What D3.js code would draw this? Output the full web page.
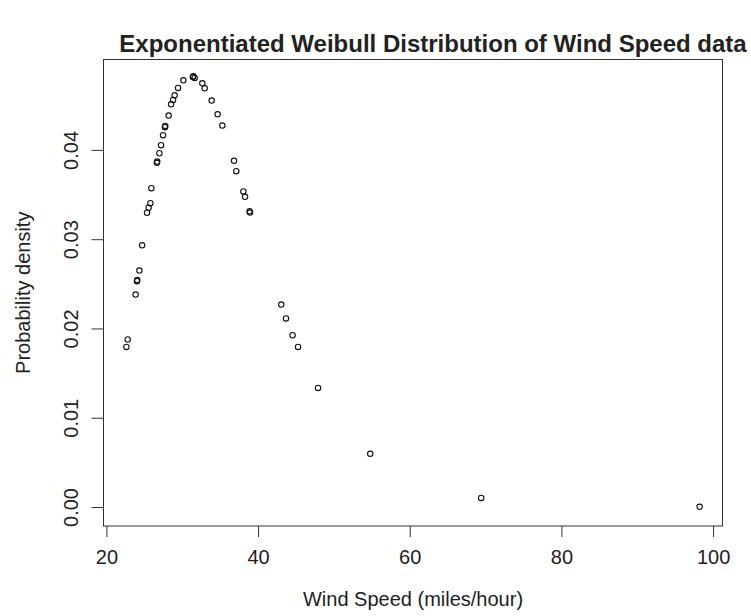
<!DOCTYPE html>
<html>
<head>
<meta charset="utf-8">
<script src="https://cdn.jsdelivr.net/npm/d3@7"></script>
<style>
  body { margin: 0; background: #fff; }
  text { font-family: "Liberation Sans", Arial, sans-serif; fill: #222; }
</style>
</head>
<body>
<div id="chart"></div>
<script>
// wind speed (x) and fitted density (y)
var windSpeed = [22.64, 22.81, 23.86, 24.03, 24.07, 24.35, 24.71, 25.36, 25.57, 25.80,
                 25.93, 26.66, 26.70, 26.99, 27.21, 27.47, 27.72, 27.76, 28.21, 28.53,
                 28.79, 29.00, 29.45, 30.15, 31.40, 31.46, 31.64, 32.65, 32.96, 33.88,
                 34.67, 35.29, 36.83, 37.13, 38.06, 38.28, 38.88, 38.94, 43.06, 43.68,
                 44.55, 45.27, 47.91, 54.79, 69.42, 98.22];
var density = [0.01793, 0.01876, 0.02379, 0.02530, 0.02542, 0.02648, 0.02931, 0.03296, 0.03352, 0.03404,
               0.03572, 0.03855, 0.03869, 0.03963, 0.04053, 0.04165, 0.04255, 0.04269, 0.04385, 0.04511,
               0.04560, 0.04612, 0.04695, 0.04780, 0.04818, 0.04824, 0.04807, 0.04746, 0.04690, 0.04553,
               0.04399, 0.04273, 0.03878, 0.03762, 0.03535, 0.03475, 0.03312, 0.03298, 0.02267, 0.02112,
               0.01924, 0.01793, 0.01334, 0.00596, 0.00101, 0.00002];

var xTicks = [20, 40, 60, 80, 100];
var yTicks = [0, 0.01, 0.02, 0.03, 0.04];

// axis limits (data range plus 4% like R does)
var xLim = [19.62, 101.24];
var yLim = [-0.00213, 0.05013];

var margin = {top: 59.5, right: 28.5, bottom: 90, left: 103.5},
    width = 751 - margin.left - margin.right,
    height = 616 - margin.top - margin.bottom;

var svg = d3.select("#chart")
  .append("svg")
    .attr("width", 751)
    .attr("height", 616)
  .append("g")
    .attr("transform", "translate(" + margin.left + "," + margin.top + ")");

var x = d3.scaleLinear().domain(xLim).range([0, width]);
var y = d3.scaleLinear().domain(yLim).range([height, 0]);

// X axis
var gx = svg.append("g")
  .attr("transform", "translate(0," + height + ")")
  .call(d3.axisBottom(x).tickValues(xTicks).tickSize(11).tickPadding(13).tickFormat(d3.format("d")));
gx.select(".domain").remove();
gx.selectAll("line").attr("stroke", "#333");
gx.selectAll("text").style("font-size", "20px").attr("fill", "#222");

// Y axis, labels turned like R
var gy = svg.append("g")
  .call(d3.axisLeft(y).tickValues(yTicks).tickSize(12).tickFormat(d3.format(".2f")));
gy.select(".domain").remove();
gy.selectAll("line").attr("stroke", "#333");
gy.selectAll("text")
  .style("font-size", "20px")
  .attr("fill", "#222")
  .attr("x", null).attr("dy", null)
  .attr("text-anchor", "middle")
  .attr("transform", "translate(-33,0) rotate(-90)")
  .attr("y", 7);

// plot box
svg.append("rect")
  .attr("width", width)
  .attr("height", height)
  .attr("fill", "none")
  .attr("stroke", "#333")
  .attr("stroke-width", 1);

// points
svg.append("g")
  .selectAll("circle")
  .data(windSpeed)
  .enter()
  .append("circle")
    .attr("cx", function(d) { return x(d); })
    .attr("cy", function(d, i) { return y(density[i]); })
    .attr("r", 2.7)
    .attr("fill", "none")
    .attr("stroke", "#111")
    .attr("stroke-width", 1.1);

// titles
svg.append("text")
  .attr("x", width / 2 + 20)
  .attr("y", -8)
  .attr("text-anchor", "middle")
  .style("font-size", "24px")
  .style("font-weight", "bold")
  .attr("fill", "#000")
  .text("Exponentiated Weibull Distribution of Wind Speed data");

svg.append("text")
  .attr("x", width / 2)
  .attr("y", height + 80)
  .attr("text-anchor", "middle")
  .style("font-size", "20px")
  .text("Wind Speed (miles/hour)");

svg.append("text")
  .attr("transform", "rotate(-90)")
  .attr("x", -height / 2)
  .attr("y", -74)
  .attr("text-anchor", "middle")
  .style("font-size", "20px")
  .text("Probability density");
</script>
</body>
</html>
